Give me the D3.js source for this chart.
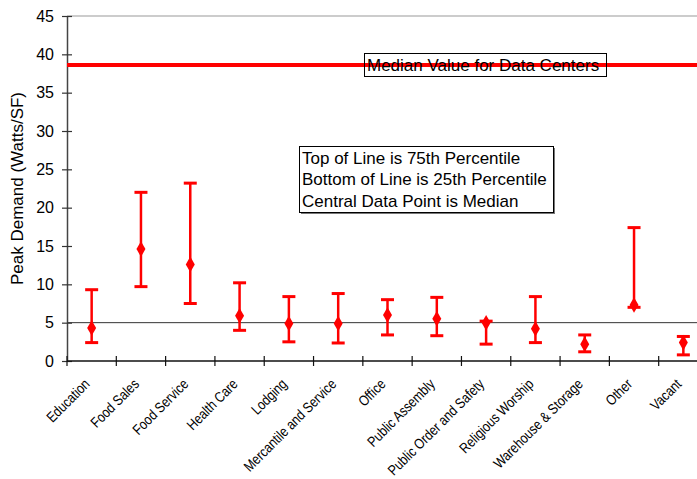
<!DOCTYPE html>
<html>
<head>
<meta charset="utf-8">
<script src="https://cdn.jsdelivr.net/npm/d3@7"></script>
<style>
  html, body { margin: 0; padding: 0; background: #fff; overflow: hidden; }
  svg { display: block; font-family: "Liberation Sans", Arial, sans-serif; }
</style>
</head>
<body>
<svg id="chart" width="697" height="479"></svg>
<script>
// Peak demand by building type: 25th percentile, median, 75th percentile (Watts/SF)
const categories = ["Education", "Food Sales", "Food Service", "Health Care", "Lodging",
  "Mercantile and Service", "Office", "Public Assembly", "Public Order and Safety",
  "Religious Worship", "Warehouse & Storage", "Other", "Vacant"];
const p75 =    [9.3, 22.0, 23.2, 10.2, 8.4, 8.8, 8.0, 8.3, 5.2, 8.4, 3.4, 17.4, 3.2];
const median = [4.3, 14.6, 12.6, 5.9, 4.9, 4.9, 6.0, 5.5, 5.0, 4.2, 2.2, 7.3, 2.4];
const p25 =    [2.4, 9.7, 7.5, 4.0, 2.5, 2.35, 3.4, 3.3, 2.2, 2.4, 1.2, 7.0, 0.8];
const dataCenterMedian = 38.6;
const referenceLine = 5;
const yTicks = [0, 5, 10, 15, 20, 25, 30, 35, 40, 45];
const legendLines = ["Top of Line is 75th Percentile", "Bottom of Line is 25th Percentile",
  "Central Data Point is Median"];

(function () {
const svg = d3.select("#chart");
const plotLeft = 67, plotTop = 16, plotBottom = 361, plotRight = 708;

const x = d3.scaleBand().domain(categories).range([plotLeft, plotRight]);
const y = d3.scaleLinear().domain([0, 45]).range([plotBottom, plotTop]);

// plot frame top edge
svg.append("line").attr("x1", plotLeft).attr("x2", 697).attr("y1", y(45)).attr("y2", y(45))
  .attr("stroke", "#999").attr("stroke-width", 1);

// horizontal reference line at 5
svg.append("line").attr("x1", plotLeft).attr("x2", 697)
  .attr("y1", y(referenceLine)).attr("y2", y(referenceLine))
  .attr("stroke", "#333").attr("stroke-width", 1);

// y axis
const yAxis = svg.append("g").attr("transform", `translate(${plotLeft},0)`)
  .call(d3.axisLeft(y).tickValues(yTicks).tickSize(5).tickPadding(8).tickSizeOuter(0));
yAxis.select(".domain").attr("stroke", "#444").attr("stroke-width", 1.5);
yAxis.selectAll(".tick line").attr("x2", 5).attr("x1", -5).attr("stroke", "#333").attr("stroke-width", 1.2);
yAxis.selectAll(".tick text").attr("font-size", 16).attr("fill", "#000")
  .attr("font-family", "Liberation Sans, Arial, sans-serif");

// x axis with boundary ticks between categories
const xg = svg.append("g");
xg.append("line").attr("x1", plotLeft).attr("x2", 697).attr("y1", plotBottom).attr("y2", plotBottom)
  .attr("stroke", "#111").attr("stroke-width", 1.5);
const boundaries = categories.map(c => x(c));
xg.selectAll("line.tk").data(boundaries).join("line").attr("class", "tk")
  .attr("x1", d => d).attr("x2", d => d).attr("y1", plotBottom - 5).attr("y2", plotBottom + 5)
  .attr("stroke", "#111").attr("stroke-width", 1.2);

// condensed, slanted category labels
xg.selectAll("text.cat").data(categories).join("text").attr("class", "cat")
  .attr("transform", d => `translate(${x(d) + x.bandwidth() / 2 - 1},${plotBottom + 24}) rotate(-45) scale(0.84,1)`)
  .attr("text-anchor", "end")
  .attr("font-size", 14.5)
  .attr("fill", "#000")
  .text(d => d);

// y axis title
svg.append("text")
  .attr("transform", `translate(23,${(plotTop + plotBottom) / 2}) rotate(-90)`)
  .attr("text-anchor", "middle").attr("font-size", 17).attr("fill", "#000")
  .text("Peak Demand (Watts/SF)");

// data center median line
svg.append("line").attr("x1", plotLeft).attr("x2", 697)
  .attr("y1", y(dataCenterMedian)).attr("y2", y(dataCenterMedian))
  .attr("stroke", "#ff0000").attr("stroke-width", 4);

// median line label
const mlx = 364, mly = 53;
svg.append("rect").attr("x", mlx + 0.5).attr("y", mly + 0.5).attr("width", 242).attr("height", 23)
  .attr("fill", "none").attr("stroke", "#000").attr("stroke-width", 1);
svg.append("text").attr("x", mlx + 3).attr("y", mly + 17.5).attr("font-size", 17).attr("fill", "#000")
  .text("Median Value for Data Centers");

// error bars
const color = "#ff0000";
const bars = svg.append("g");
categories.forEach((c, i) => {
  const cx = x(c) + x.bandwidth() / 2;
  const g = bars.append("g");
  g.append("line").attr("x1", cx).attr("x2", cx).attr("y1", y(p25[i])).attr("y2", y(p75[i]))
    .attr("stroke", color).attr("stroke-width", 2.5);
  [p25[i], p75[i]].forEach(v => {
    g.append("line").attr("x1", cx - 6.5).attr("x2", cx + 6.5).attr("y1", y(v)).attr("y2", y(v))
      .attr("stroke", color).attr("stroke-width", 3);
  });
  g.append("path")
    .attr("d", d3.symbol(d3.symbolDiamond, 70)())
    .attr("transform", `translate(${cx},${y(median[i])})`)
    .attr("fill", color);
});

// legend box
const lx = 299, ly = 146, lw = 254, lh = 66;
svg.append("rect").attr("x", lx + 2).attr("y", ly + 2).attr("width", lw).attr("height", lh)
  .attr("fill", "#777");
svg.append("rect").attr("x", lx + 0.5).attr("y", ly + 0.5).attr("width", lw).attr("height", lh)
  .attr("fill", "#fff").attr("stroke", "#000").attr("stroke-width", 1);
svg.append("g").selectAll("text").data(legendLines).join("text")
  .attr("x", lx + 3).attr("y", (d, i) => ly + 17.5 + i * 21.5)
  .attr("font-size", 17).attr("fill", "#000")
  .text(d => d);
})();
</script>
</body>
</html>
